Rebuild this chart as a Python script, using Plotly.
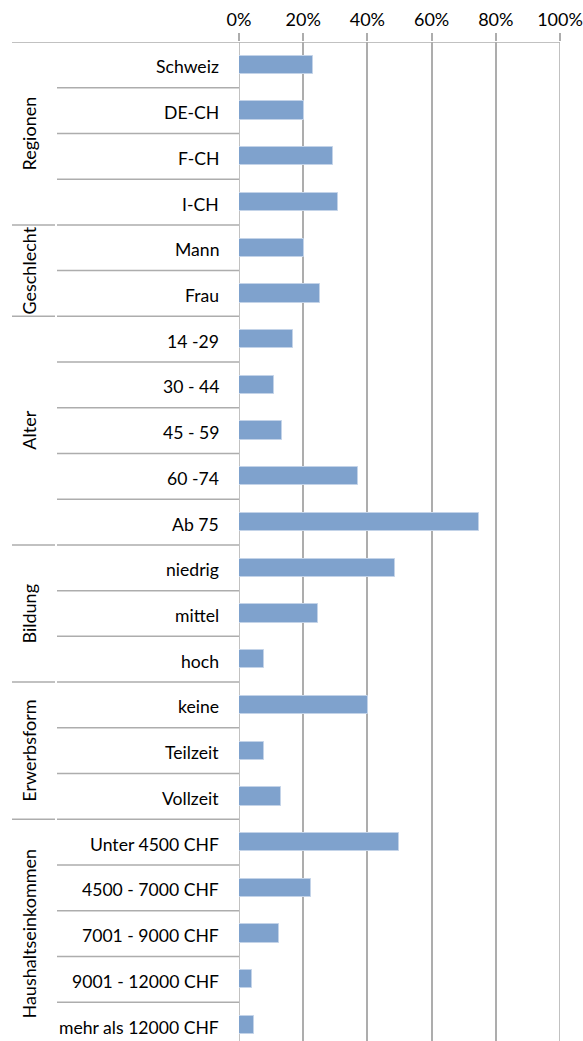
import plotly.graph_objects as go

# Row labels (top to bottom) and their shares in percent
categories = [
    "Schweiz", "DE-CH", "F-CH", "I-CH",
    "Mann", "Frau",
    "14 -29", "30 - 44", "45 - 59", "60 -74", "Ab 75",
    "niedrig", "mittel", "hoch",
    "keine", "Teilzeit", "Vollzeit",
    "Unter 4500 CHF", "4500 - 7000 CHF", "7001 - 9000 CHF",
    "9001 - 12000 CHF", "mehr als 12000 CHF",
]
values = [
    23.0, 20.4, 29.4, 30.9,
    20.4, 25.1,
    16.8, 10.9, 13.5, 37.2, 74.8,
    48.7, 24.6, 7.8,
    40.3, 7.8, 13.0,
    49.8, 22.5, 12.5, 4.2, 4.7,
]

# Groups: name and number of rows it spans
groups = ["Regionen", "Geschlecht", "Alter", "Bildung", "Erwerbsform", "Haushaltseinkommen"]
group_sizes = [4, 2, 5, 3, 3, 5]

tick_vals = [0, 20, 40, 60, 80, 100]
tick_text = ["0%", "20%", "40%", "60%", "80%", "100%"]

FONT = "Lato"
GRID = "#adadad"
W, H = 583, 1041
ML, MR, MT = 239, 23, 42
plot_w = W - ML - MR


def px_to_paper(px):
    return (px - ML) / plot_w


rows = list(range(len(categories)))

fig = go.Figure()
fig.add_trace(go.Bar(
    x=values,
    y=rows,
    orientation="h",
    width=0.4,
    marker=dict(color="#7fa2cd", line=dict(color="#c3d3e8", width=1)),
    hoverinfo="skip",
))

shapes = []
annotations = []
line_style = dict(color=GRID, width=1.5)

# Top border across the whole table
shapes.append(dict(type="line", xref="paper", yref="y",
                   x0=px_to_paper(12), x1=1, y0=-0.5, y1=-0.5,
                   line=line_style))

# Value axis line at 0% and right edge at 100%
for xv in (0, 100):
    shapes.append(dict(type="line", xref="x", yref="paper",
                       x0=xv, x1=xv, y0=0, y1=1, line=line_style, layer="below"))

# Row separators and group separators
start = 0
for gname, size in zip(groups, group_sizes):
    end = start + size
    for r in range(start + 1, end):
        shapes.append(dict(type="line", xref="paper", yref="y",
                           x0=px_to_paper(57), x1=0, y0=r - 0.5, y1=r - 0.5,
                           line=line_style))
    yb = end - 0.5
    shapes.append(dict(type="line", xref="paper", yref="y",
                       x0=px_to_paper(12), x1=px_to_paper(55), y0=yb, y1=yb,
                       line=line_style))
    shapes.append(dict(type="line", xref="paper", yref="y",
                       x0=px_to_paper(57), x1=0, y0=yb, y1=yb,
                       line=line_style))
    annotations.append(dict(
        text=gname, xref="paper", yref="y",
        x=px_to_paper(29), y=(start + end - 1) / 2,
        textangle=-90, showarrow=False,
        xanchor="center", yanchor="middle",
        font=dict(family=FONT, size=18, color="#000000"),
    ))
    start = end

# Category labels, right-aligned next to the value axis
for r, label in zip(rows, categories):
    annotations.append(dict(
        text=label, xref="paper", yref="y",
        x=px_to_paper(221), y=r, yshift=-2,
        showarrow=False, xanchor="right", yanchor="middle",
        font=dict(family=FONT, size=17.6, color="#000000"),
    ))

fig.update_layout(
    width=W, height=H,
    margin=dict(l=ML, r=MR, t=MT, b=0, pad=0),
    paper_bgcolor="white", plot_bgcolor="white",
    showlegend=False,
    shapes=shapes,
    annotations=annotations,
    bargap=0,
    xaxis=dict(
        side="top",
        range=[0, 100],
        tickvals=tick_vals, ticktext=tick_text,
        showgrid=True, gridcolor=GRID, gridwidth=1.5,
        zeroline=False,
        showline=False,
        ticks="outside", ticklen=8, tickcolor=GRID, tickwidth=1.5,
        tickfont=dict(family=FONT, size=18, color="#000000"),
        fixedrange=True,
    ),
    yaxis=dict(
        range=[21.35, -0.5],
        showticklabels=False, showgrid=False, zeroline=False,
        ticks="", showline=False,
        fixedrange=True,
    ),
)

fig.write_html("out.html")
